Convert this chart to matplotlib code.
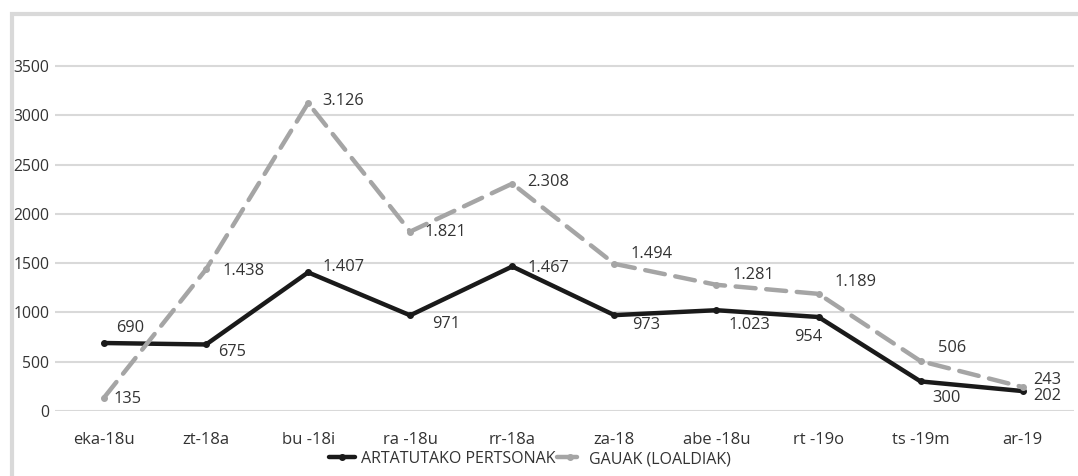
import matplotlib.pyplot as plt
from matplotlib.patches import Rectangle

plt.rcParams['font.family'] = ['Open Sans', 'DejaVu Sans']

months = ["eka-18u", "zt-18a", "bu -18i", "ra -18u", "rr-18a",
          "za-18", "abe -18u", "rt -19o", "ts -19m", "ar-19"]
persons = [690, 675, 1407, 971, 1467, 973, 1023, 954, 300, 202]
nights = [135, 1438, 3126, 1821, 2308, 1494, 1281, 1189, 506, 243]

# label offsets in pixels (dx, dy) from each point
persons_off = [(12, 15), (12, -8), (14, 5), (22, -9), (15, -2),
               (18, -10), (12, -15), (-24, -20), (12, -17), (11, -5)]
nights_off = [(10, -1), (16, -2), (14, 2), (14, 0), (15, 2),
              (16, 10), (16, 10), (16, 12), (17, 13), (11, 7)]

BLACK = "#1a1a1a"
GRAY = "#a5a5a5"
GRID = "#d9d9d9"
TEXT = "#333333"


def fmt(v):
    return f"{v:,}".replace(",", ".")


fig = plt.figure(figsize=(10.78, 4.76), dpi=100)
ax = fig.add_axes([0.051, 0.1366, 0.945, 0.8174])

x = list(range(len(months)))
ax.plot(x, persons, color=BLACK, lw=3.2, marker="o", markersize=4,
        solid_capstyle="round", label="ARTATUTAKO PERTSONAK", zorder=3)
ax.plot(x, nights, color=GRAY, lw=3.2, marker="o", markersize=4,
        dashes=(4.5, 2.4), dash_capstyle="round",
        label="GAUAK (LOALDIAK)", zorder=4)

for i, v in enumerate(persons):
    ax.annotate(fmt(v), (i, v), xytext=persons_off[i], textcoords="offset pixels",
                ha="left", va="center", fontsize=11.8, color=TEXT)
for i, v in enumerate(nights):
    ax.annotate(fmt(v), (i, v), xytext=nights_off[i], textcoords="offset pixels",
                ha="left", va="center", fontsize=11.8, color=TEXT)

ax.set_xlim(-0.48, 9.5)
ax.set_ylim(0, 3950)
ax.set_yticks(range(0, 3501, 500))
ax.set_xticks(x)
ax.set_xticklabels(months)
ax.yaxis.grid(True, color=GRID, lw=1.5)
ax.set_axisbelow(True)
for s in ax.spines.values():
    s.set_visible(False)
ax.tick_params(axis="both", length=0, colors=TEXT)
ax.tick_params(axis="x", pad=15, labelsize=12)
ax.tick_params(axis="y", pad=4, labelsize=11.3)

fig.legend(loc="center", bbox_to_anchor=(0.492, 1 - 459 / 476), ncol=2,
           frameon=False, fontsize=11.5, handlelength=1.6, columnspacing=0.1,
           handletextpad=0.4, labelcolor=TEXT)

fig.add_artist(Rectangle((12 / 1078, -0.05), 1.1, 1 - 14 / 476 + 0.05,
                         transform=fig.transFigure, fill=False,
                         edgecolor=GRID, lw=3))

fig.savefig("out.png", dpi=100)
